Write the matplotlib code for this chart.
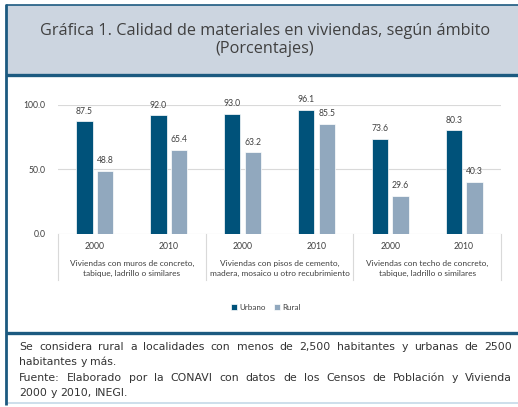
import matplotlib
matplotlib.use("Agg")
import numpy as np
from matplotlib import pyplot as plt
from matplotlib.patches import Rectangle
from matplotlib.lines import Line2D

# datos
años = ["2000", "2010", "2000", "2010", "2000", "2010"]
grupos = ["Viviendas con muros de concreto,\ntabique, ladrillo o similares",
          "Viviendas con pisos de cemento,\nmadera, mosaico u otro recubrimiento",
          "Viviendas con techo de concreto,\ntabique, ladrillo o similares"]
urbano = [87.5, 92.0, 93.0, 96.1, 73.6, 80.3]
rural = [48.8, 65.4, 63.2, 85.5, 29.6, 40.3]
yticks = [0.0, 50.0, 100.0]

titulo = "Gráfica 1. Calidad de materiales en viviendas, según ámbito\n(Porcentajes)"
nota = [
    "Se considera rural a localidades con menos de 2,500 habitantes y urbanas de 2500",
    "habitantes y más.",
    "Fuente: Elaborado por la CONAVI con datos de los Censos de Población y Vivienda",
    "2000 y 2010, INEGI.",
]

c_urb = "#00527a"
c_rur = "#91a8be"
c_borde = "#1c5a80"
c_caja = "#ccd5e0"
c_grid = "#d9d9d9"
c_txt = "#404040"

W, H = 518, 407
fig = plt.figure(figsize=(W / 100, H / 100), dpi=100)

def fx(px):
    return px / W

def fy(py):
    return 1 - py / H

# marco y caja del titulo
fig.patches.append(Rectangle((fx(7), fy(75)), 1 - fx(7), fy(5) - fy(75),
                             transform=fig.transFigure, fc=c_caja, ec="none", zorder=0))
for (x0, y0, x1, y1, lw, col) in [(6, 5, W, 5, 1.2, c_borde),
                                  (6, 75, W, 75, 2.4, c_borde),
                                  (6, 333, W, 333, 2.4, c_borde),
                                  (6, 403, W, 403, 1.2, "#c5d9e8"),
                                  (6, 4, 6, 405, 2.0, c_borde)]:
    fig.add_artist(Line2D([fx(x0), fx(x1)], [fy(y0), fy(y1)], transform=fig.transFigure,
                          color=col, lw=lw, solid_capstyle="butt"))

fig.text(fx(265), fy(40), titulo, ha="center", va="center", fontsize=11.7,
         family="Open Sans", color="#404040", linespacing=1.1)

# grafica
ax = fig.add_axes([fx(58), fy(233.7), fx(501) - fx(58), fy(105) - fy(233.7)])
x = np.arange(len(años))
w = 0.22
b1 = ax.bar(x - 0.14, urbano, w, color=c_urb, edgecolor="white", linewidth=0.5, label="Urbano", zorder=2)
b2 = ax.bar(x + 0.14, rural, w, color=c_rur, edgecolor="white", linewidth=0.5, label="Rural", zorder=2)
for bars, vals in [(b1, urbano), (b2, rural)]:
    for b, v in zip(bars, vals):
        ax.annotate(f"{v:.1f}", (b.get_x() + b.get_width() / 2, v), xytext=(0, 4),
                    textcoords="offset points", ha="center", va="bottom",
                    fontsize=6.2, family="Lato", color=c_txt, annotation_clip=False)

ax.set_xlim(-0.5, len(años) - 0.5)
ax.set_ylim(0, 100)
ax.set_yticks(yticks)
ax.set_yticklabels([f"{t:.1f}" for t in yticks], fontsize=6.2, family="Lato", color=c_txt)
ax.tick_params(axis="y", length=0, pad=9)
ax.set_xticks([])
for s in ax.spines.values():
    s.set_visible(False)
for t in yticks:
    ax.axhline(t, color=c_grid, lw=0.8, zorder=1)

# eje de categorias
tr = ax.get_xaxis_transform()
for xs in [-0.5, 1.5, 3.5, 5.5]:
    ax.plot([xs, xs], [0, -0.36], transform=tr, color=c_grid, lw=0.8, clip_on=False)
for i, a in enumerate(años):
    ax.text(i, -0.096, a, transform=tr, ha="center", va="center", fontsize=6.2,
            family="Lato", color=c_txt)
for j, g in enumerate(grupos):
    ax.text(2 * j + 0.5, -0.27, g, transform=tr, ha="center", va="center", fontsize=6.0,
            family="Lato", color=c_txt, linespacing=1.45)

fig.legend(handles=[b1, b2], loc="center", bbox_to_anchor=(fx(266), fy(307)), ncol=2,
           frameon=False, prop={"family": "Lato", "size": 5.8}, handlelength=0.7,
           handleheight=0.7, handletextpad=0.3, columnspacing=1.0, labelcolor=c_txt)

# nota al pie, justificada
fig.canvas.draw()
r = fig.canvas.get_renderer()
x_izq, x_der = 19, 512
ys = [350, 365, 381, 396]
fs = 7.8
for k, (linea, yy) in enumerate(zip(nota, ys)):
    palabras = linea.split(" ")
    arts = [fig.text(fx(x_izq), fy(yy), p, ha="left", va="baseline", fontsize=fs,
                     family="DejaVu Sans", color="#333333") for p in palabras]
    anchos = [a.get_window_extent(r).width for a in arts]
    if k in (0, 2):
        hueco = (x_der - x_izq - sum(anchos)) / (len(palabras) - 1)
    else:
        hueco = 3.5
    pos = x_izq
    for a, wd in zip(arts, anchos):
        a.set_x(fx(pos))
        pos += wd + hueco

fig.savefig("out.png", dpi=100)
